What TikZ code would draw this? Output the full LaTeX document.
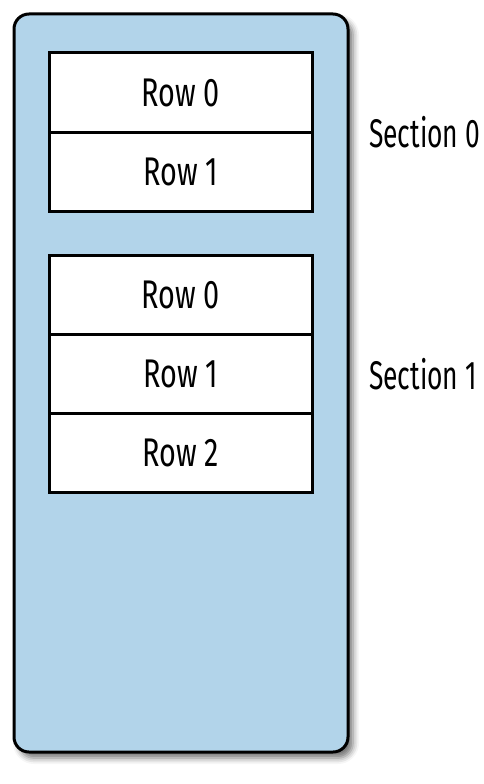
\documentclass[tikz,border=0pt]{standalone}
\usepackage{fontspec}
\newfontfamily\rowfont[FakeStretch=0.72]{Fira Sans}
\newfontfamily\secfont[FakeStretch=0.66]{Fira Sans}
\usetikzlibrary{positioning,shadows.blur}
\definecolor{tableblue}{RGB}{178,212,234}
\tikzset{
  rowbox/.style={draw,line width=3pt,fill=white,outer sep=0pt,inner sep=0pt,
    minimum width=263pt,minimum height=79pt,font=\rowfont\fontsize{40}{48}\selectfont},
  seclabel/.style={inner sep=0pt,anchor=west,font=\secfont\fontsize{40}{48}\selectfont}
}
\begin{document}
\begin{tikzpicture}[x=1pt,y=-1pt]
\useasboundingbox (0,0) rectangle (484,784);
% table view
\draw[line width=3pt,rounded corners=15pt,fill=tableblue,
  blur shadow={shadow xshift=5pt,shadow yshift=-6pt,shadow blur radius=6pt,shadow opacity=55}]
  (14,14) rectangle (348,752);
% section 0
\node[rowbox] (s0r0) at (180.5,92.5) {Row 0};
\node[rowbox,below=0pt of s0r0] (s0r1) {Row 1};
% section 1
\node[rowbox] (s1r0) at (180.5,295) {Row 0};
\node[rowbox,below=0pt of s1r0] (s1r1) {Row 1};
\node[rowbox,below=0pt of s1r1] (s1r2) {Row 2};
% labels
\node[seclabel,right=57pt of s0r0.south east] (sec0) {Section 0};
\node[seclabel,right=57pt of s1r1.east] (sec1) {Section 1};
\end{tikzpicture}
\end{document}
